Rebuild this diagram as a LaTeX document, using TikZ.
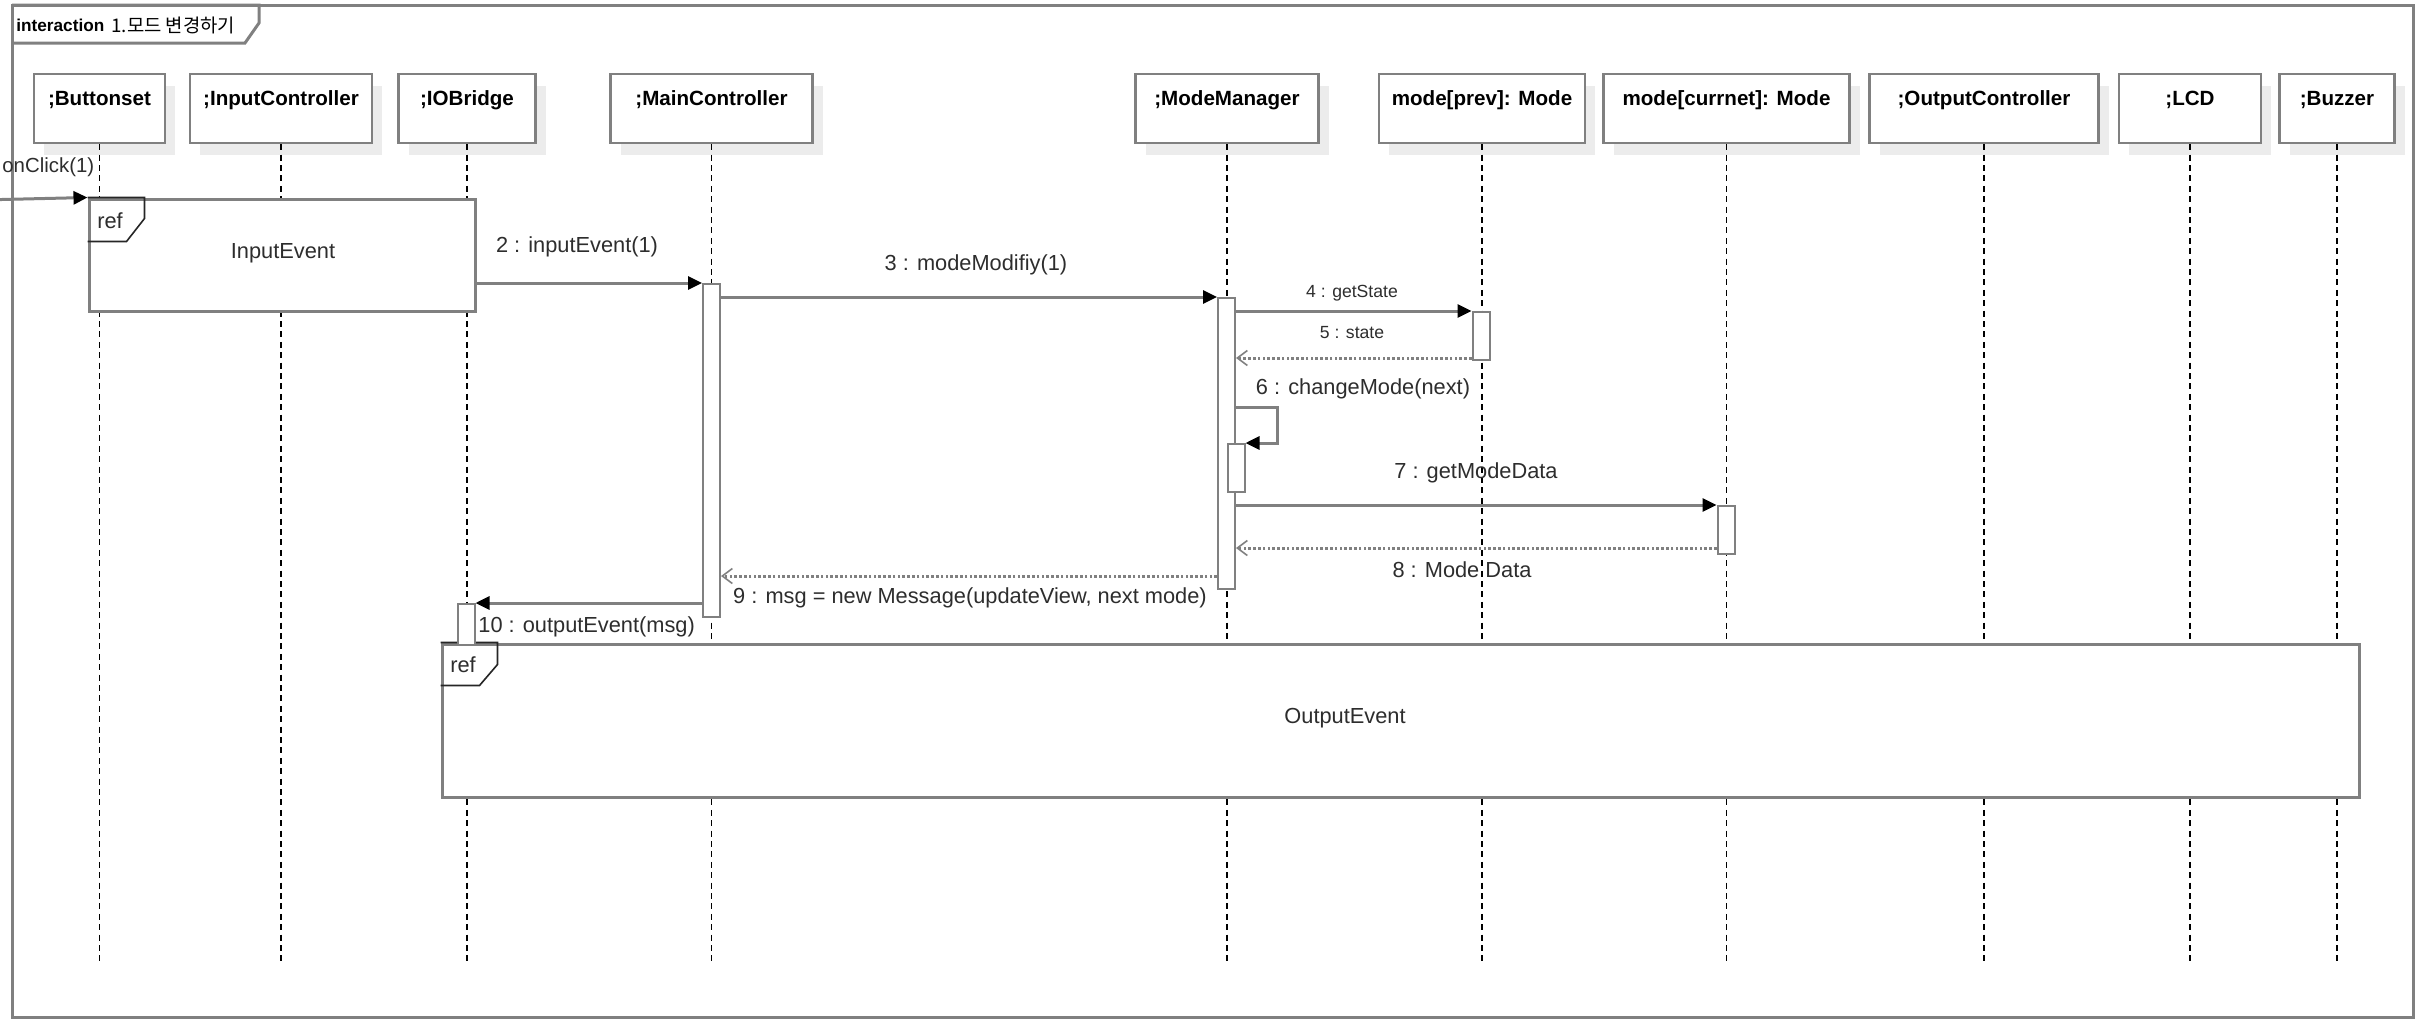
\documentclass[tikz,border=0pt]{standalone}
\usepackage{fontspec}
\setmainfont{Liberation Sans}
\newfontfamily\krfont{Noto Sans CJK KR}
\usetikzlibrary{arrows.meta,shadows}
\definecolor{umlgray}{RGB}{128,128,128}
\definecolor{shadowgray}{RGB}{236,236,236}
\definecolor{labelgray}{RGB}{45,45,45}
\tikzset{
  head/.style={draw=umlgray, line width=1.2pt, fill=white, inner sep=0pt,
    minimum height=34.5pt, text height=7.5pt, text depth=10.5pt,
    font=\fontsize{10.3}{12}\selectfont\bfseries,
    drop shadow={shadow xshift=5pt, shadow yshift=-6pt, fill=shadowgray, opacity=1}},
  lifeline/.style={draw=black, line width=0.6pt, dash pattern=on 3pt off 2.2pt},
  act/.style={draw=umlgray, line width=1pt, fill=white, inner sep=0pt,
    minimum width=8.5pt, anchor=north},
  msg/.style={draw=umlgray, line width=1.5pt,
    -{Triangle[length=7pt,width=6.5pt,color=black]}},
  ret/.style={draw=umlgray, line width=1.5pt, dash pattern=on 1.3pt off 1.1pt,
    -{Straight Barb[length=5pt,width=7.5pt,line width=0.8pt]}},
  refbox/.style={draw=umlgray, line width=1.5pt, fill=white, inner sep=0pt},
  reftab/.style={draw=black!85, line width=0.8pt},
  lbl/.style={font=\fontsize{10.9}{12}\selectfont, text=labelgray, inner sep=0pt},
  smalllbl/.style={font=\fontsize{8.8}{10}\selectfont, text=labelgray, inner sep=0pt}
}
\begin{document}
\begin{tikzpicture}[x=0.5pt,y=-0.5pt]
\useasboundingbox (0,0) rectangle (2415,1019);

%%% FRAME
\path[draw=umlgray,line width=1.5pt] (12,5) rectangle (2413,1017);
\path[draw=umlgray,line width=1.5pt] (12,5) -| (259,23) -- (245,43) -- (12,43);
\path (16,25) node[anchor=west,inner sep=0pt,font=\fontsize{8.6}{10}\selectfont\bfseries] (nodeTitle) {interaction};
\path (111,25) node[anchor=west,inner sep=0pt,font=\fontsize{9.4}{10}\selectfont] (nodeTitleKr) {\krfont 1.모드 변경하기};

%%% LIFELINE HEADS
\path (99.5,108.5) node[head,minimum width=65.5pt] (nodeBtn) {;Buttonset};
\path (281,108.5) node[head,minimum width=91pt] (nodeInCtl) {;InputController};
\path (467,108.5) node[head,minimum width=68.5pt] (nodeIOB) {;IOBridge};
\path (711.5,108.5) node[head,minimum width=101pt] (nodeMain) {;MainController};
\path (1227,108.5) node[head,minimum width=91.5pt] (nodeModeMgr) {;ModeManager};
\path (1482,108.5) node[head,minimum width=103pt] (nodePrev) {mode[prev]: Mode};
\path (1726.5,108.5) node[head,minimum width=123pt] (nodeCur) {mode[currnet]: Mode};
\path (1984,108.5) node[head,minimum width=114.5pt] (nodeOutCtl) {;OutputController};
\path (2190,108.5) node[head,minimum width=71pt] (nodeLCD) {;LCD};
\path (2337,108.5) node[head,minimum width=57.5pt] (nodeBuz) {;Buzzer};

%%% LIFELINES
\coordinate (lifeEnd) at (0,961);
\path[lifeline] (nodeBtn.south) -- (nodeBtn.south |- lifeEnd);
\path[lifeline] (nodeInCtl.south) -- (nodeInCtl.south |- lifeEnd);
\path[lifeline] (nodeIOB.south) -- (nodeIOB.south |- lifeEnd);
\path[lifeline] (nodeMain.south) -- (nodeMain.south |- lifeEnd);
\path[lifeline] (nodeModeMgr.south) -- (nodeModeMgr.south |- lifeEnd);
\path[lifeline] (nodePrev.south) -- (nodePrev.south |- lifeEnd);
\path[lifeline] (nodeCur.south) -- (nodeCur.south |- lifeEnd);
\path[lifeline] (nodeOutCtl.south) -- (nodeOutCtl.south |- lifeEnd);
\path[lifeline] (nodeLCD.south) -- (nodeLCD.south |- lifeEnd);
\path[lifeline] (nodeBuz.south) -- (nodeBuz.south |- lifeEnd);

%%% REF FRAGMENTS
\path (282,255) node[refbox,minimum width=193pt,minimum height=56pt] (nodeInRef) {};
\path (283,253) node[lbl] (lblInRef) {InputEvent};
\path[reftab] (nodeInRef.north west) -- ++(57,0) -- ++(0,21) -- ++(-18,23) -- ++(-39,0);
\path (110,221) node[lbl] (lblRefA) {ref};
\path (1400.5,720.5) node[refbox,minimum width=958.5pt,minimum height=76.5pt] (nodeOutRef) {};
\path (1345,718) node[lbl] (lblOutRef) {OutputEvent};
\path[reftab] (nodeOutRef.north west) -- ++(57,0) -- ++(0,22) -- ++(-18,21) -- ++(-39,0);
\path (463,665) node[lbl] (lblRefB) {ref};

%%% ACTIVATIONS
\path (711.5,283) node[act,minimum height=166.5pt] (actMain) {};
\path (1226.5,297) node[act,minimum height=145.5pt] (actMode) {};
\path (1481,311) node[act,minimum height=24pt] (actPrev) {};
\path (1236,443) node[act,minimum height=24pt] (actNest) {};
\path (1726,505) node[act,minimum height=24pt] (actCur) {};
\path (466,603) node[act,minimum height=20.5pt] (actIOB) {};

%%% MESSAGES
\coordinate (found) at (-20,200);
\path[msg] (found) -- (nodeInRef.north west);
\path (2,167) node[lbl,anchor=west,font=\fontsize{10.2}{12}\selectfont] (lblClick) {onClick(1)};
\path[msg] (nodeInRef.east |- actMain.north) -- (actMain.north west);
\path (577,247) node[lbl] (lbl2) {2 : inputEvent(1)};
\path[msg] (actMain.east |- actMode.north) -- (actMode.north west);
\path (976,265) node[lbl] (lbl3) {3 : modeModifiy(1)};
\path[msg] (actMode.east |- actPrev.north) -- (actPrev.north west);
\path (1352,293) node[smalllbl] (lbl4) {4 : getState};
\coordinate (ret5) at ([yshift=1.5pt]actPrev.south west);
\path[ret] (ret5) -- (actMode.east |- ret5);
\path (1352,333) node[smalllbl] (lbl5) {5 : state};
\coordinate (self6) at (1277,407);
\path[msg] (actMode.east |- self6) -- (self6) -- (self6 |- actNest.north) -- (actNest.north east);
\path (1363,389) node[lbl] (lbl6) {6 : changeMode(next)};
\path[msg] (actMode.east |- actCur.north) -- (actCur.north west);
\path (1476,473) node[lbl] (lbl7) {7 : getModeData};
\coordinate (ret8) at ([yshift=3.5pt]actCur.south west);
\path[ret] (ret8) -- (actMode.east |- ret8);
\path (1462,570) node[lbl] (lbl8) {8 : Mode Data};
\coordinate (ret9) at ([yshift=7pt]actMode.south west);
\path[ret] (ret9) -- (actMain.east |- ret9);
\path (970,598) node[lbl] (lbl9) {9 : msg = new Message(updateView, next mode)};
\path[msg] (actMain.west |- actIOB.north) -- (actIOB.north east);
\path (478,627) node[lbl,anchor=west] (lbl10) {10 : outputEvent(msg)};
\end{tikzpicture}
\end{document}
